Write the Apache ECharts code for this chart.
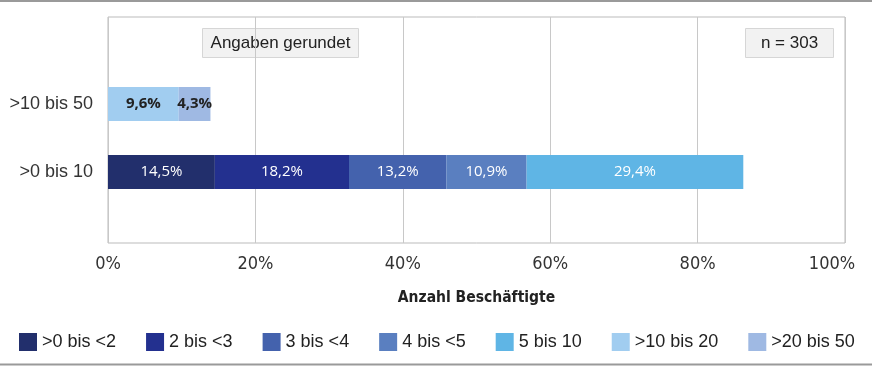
<!DOCTYPE html>
<html><head><meta charset="utf-8">
<script src="https://cdn.jsdelivr.net/npm/echarts@6/dist/echarts.min.js"></script>
<style>html,body{margin:0;padding:0;background:#fff}#c{width:872px;height:366px}</style>
</head><body><div id="c"></div>
<script>
const categories = ['>0 bis 10', '>10 bis 50'];
const seriesNames = ['>0 bis <2', '2 bis <3', '3 bis <4', '4 bis <5', '5 bis 10', '>10 bis 20', '>20 bis 50'];
const seriesValues = [
  [14.5, null],
  [18.2, null],
  [13.2, null],
  [10.9, null],
  [29.4, null],
  [null, 9.6],
  [null, 4.3]
];
const colors = ['#222f6c', '#23308f', '#4462ad', '#5a7fc0', '#5fb5e5', '#a1cdf0', '#9fb9e3'];
const labelColors = ['#fff', '#fff', '#fff', '#fff', '#fff', '#222', '#222'];
const xTicks = [0, 20, 40, 60, 80, 100];

const chart = echarts.init(document.getElementById('c'));
const L = 108, R = 27;
const condensed = 'Liberation Sans Narrow, DejaVu Sans Condensed, sans-serif';
const series = seriesNames.map((n, i) => ({
  name: n, type: 'bar', stack: 'a', xAxisIndex: 1, yAxisIndex: 1,
  barWidth: 34,
  data: seriesValues[i],
  itemStyle: { color: colors[i] },
  label: {
    show: true, position: 'inside', color: labelColors[i],
    fontFamily: 'Open Sans, sans-serif', fontSize: 15,
    fontWeight: i >= 5 ? 'bold' : 'normal',
    formatter: p => p.value == null ? '' : p.value.toFixed(1).replace('.', ',') + '%'
  }
}));
chart.setOption({
  animation: false,
  grid: [
    { left: L, right: R, top: 17, height: 226, show: true, borderColor: '#bbb', borderWidth: 1 },
    { left: L, right: R, top: 70, height: 136 }
  ],
  legend: {
    bottom: 10, left: 14, itemWidth: 18, itemHeight: 18, itemGap: 30,
    icon: 'rect',
    textStyle: { fontFamily: 'Liberation Sans, Arial, sans-serif', fontSize: 18, color: '#222' },
    data: seriesNames
  },
  xAxis: [
    { gridIndex: 0, type: 'value', min: 0, max: 100, interval: 20,
      axisLine: { show: false }, axisTick: { show: false },
      splitLine: { lineStyle: { color: '#c8c8c8', width: 1 } },
      axisLabel: {
        formatter: v => !xTicks.includes(v) ? '' : (v === 100 ? '{r|' + v + '%}' : v + '%'),
        rich: { r: { padding: [0, 26, 0, 0], color: '#333', fontSize: 18, fontFamily: condensed } },
        margin: 12, color: '#333', fontSize: 18, fontFamily: condensed },
      name: 'Anzahl Beschäftigte', nameLocation: 'middle', nameGap: 47,
      nameTextStyle: { fontWeight: 'bold', fontSize: 15.5, color: '#222', fontFamily: condensed } },
    { gridIndex: 1, type: 'value', min: 0, max: 100, show: false }
  ],
  yAxis: [
    { gridIndex: 0, type: 'value', show: false },
    { gridIndex: 1, type: 'category', data: categories,
      axisLine: { show: false }, axisTick: { show: false },
      axisLabel: { margin: 15, color: '#333', fontSize: 18, fontFamily: 'Liberation Sans, Arial, sans-serif' } }
  ],
  series: series,
  graphic: [
    { type: 'line', shape: { x1: 0, y1: 1, x2: 872, y2: 1 }, style: { stroke: '#9a9a9a', lineWidth: 2 } },
    { type: 'line', shape: { x1: 0, y1: 364.5, x2: 872, y2: 364.5 }, style: { stroke: '#9a9a9a', lineWidth: 2 } },
    { type: 'group', left: 202, top: 28, children: [
      { type: 'rect', shape: { x: 0, y: 0, width: 156, height: 29 }, style: { fill: '#f2f2f2', stroke: '#d6d6d6', lineWidth: 1 } },
      { type: 'text', x: 78, y: 15, style: { text: 'Angaben gerundet', fill: '#222', fontSize: 17, align: 'center', verticalAlign: 'middle', fontFamily: 'Liberation Sans, Arial, sans-serif' } }
    ]},
    { type: 'group', left: 745, top: 28, children: [
      { type: 'rect', shape: { x: 0, y: 0, width: 88, height: 29 }, style: { fill: '#f2f2f2', stroke: '#d6d6d6', lineWidth: 1 } },
      { type: 'text', x: 44, y: 15, style: { text: 'n = 303', fill: '#222', fontSize: 17, align: 'center', verticalAlign: 'middle', fontFamily: 'Liberation Sans, Arial, sans-serif' } }
    ]}
  ]
});
</script></body></html>
